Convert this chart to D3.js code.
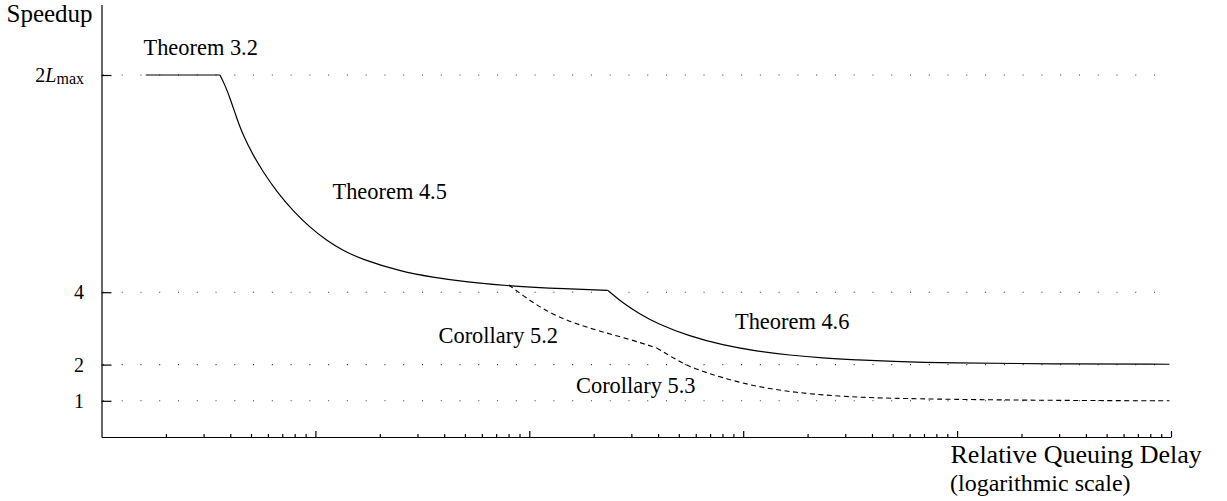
<!DOCTYPE html>
<html><head><meta charset="utf-8">
<script src="https://cdn.jsdelivr.net/npm/d3@7"></script>
</head><body style="margin:0;padding:0;background:#fff">
<svg id="chart" width="1227" height="501" style="display:block;background:#fff"></svg>
<script>
// ---- data (x: relative queuing delay, y: speedup) ----
const theorem32 = [[1.61,10],[3.58,10]];
const theorem45 = [[3.58,10],[3.78,9.72],[3.99,9.36],[4.28,8.82],[4.60,8.32],[5.12,7.78],[5.70,7.32],[6.59,6.78],[7.88,6.24],[9.43,5.79],[11.28,5.43],[13.49,5.15],[16.14,4.93],[24.8,4.58],[35.4,4.41],[51.0,4.28],[80.2,4.17],[149.7,4.09],[232.8,4.05]];
const theorem46 = [[232.8,4.05],[273.5,3.70],[328.5,3.40],[394,3.14],[562,2.78],[802,2.54],[1157,2.37],[1650,2.26],[2352,2.18],[3392,2.13],[4837,2.09],[9226,2.04],[27040,2.02],[98400,2.01]];
const corollary52 = [[80.2,4.20],[95.3,3.87],[112,3.59],[134.4,3.34],[163,3.14],[213.5,2.92],[295,2.70],[394,2.46]];
const corollary53 = [[394,2.46],[463,2.21],[562,1.93],[802,1.63],[1157,1.39],[1650,1.25],[2352,1.16],[3392,1.10],[4837,1.07],[9226,1.04],[27040,1.01],[98400,1.00]];
const yTicks = [1,2,4,10];
const xMajorTicks = [10,100,1000,10000,100000];
const xDomain = [1,1e5];
const yDomain = [0,11.95];
const seriesLabels = ["Theorem 3.2","Theorem 4.5","Corollary 5.2","Theorem 4.6","Corollary 5.3"];
const yTitle = "Speedup";
const xTitle = "Relative Queuing Delay";
const xSubtitle = "(logarithmic scale)";

// ---- layout ----
const FONT = "'Liberation Serif', 'Times New Roman', Tinos, serif";
const svg = d3.select("#chart").style("font-family", FONT);
const x = d3.scaleLog().domain(xDomain).range([101.5,1171]);
const y = d3.scaleLinear().domain(yDomain).range([437, 437 - 11.95*36.2]);

// grid (dotted)
svg.append("g").selectAll("line").data(yTicks).join("line")
  .attr("x1", x(xDomain[0])).attr("x2", x(xDomain[1]))
  .attr("y1", d=>y(d)).attr("y2", d=>y(d))
  .attr("stroke","#333").attr("stroke-width",1.1)
  .attr("stroke-dasharray","1 17.77").attr("stroke-dashoffset",-1.4);

// x axis: minor + major inward ticks
const minor = x.ticks().filter(t => !xMajorTicks.includes(t) && t !== 1);
const gx = svg.append("g").attr("transform","translate(0,437)");
gx.call(d3.axisBottom(x).tickValues(minor).tickSizeInner(-3).tickSizeOuter(0).tickFormat(""));
const gx2 = svg.append("g").attr("transform","translate(0,437)");
gx2.call(d3.axisBottom(x).tickValues(xMajorTicks).tickSizeInner(-6).tickSizeOuter(0).tickFormat(""));
gx2.select(".domain").remove();

// y axis
const gy = svg.append("g").attr("transform","translate(101.5,0)");
gy.call(d3.axisLeft(y).tickValues(yTicks).tickSizeInner(-10).tickSizeOuter(0).tickPadding(17.5)
  .tickFormat(d => d === 10 ? "" : d));
gy.attr("font-family", null);
gy.selectAll(".tick text").style("font-family", FONT)
  .attr("font-size",20).attr("dy","0.32em").attr("fill","#000");
gy.selectAll(".tick").filter(d => d === 10).select("text").each(function(){
  const t = d3.select(this);
  t.append("tspan").text("2");
  t.append("tspan").style("font-style","italic").text("L");
  t.append("tspan").attr("font-size",16).attr("dy",2).text("max");
});
svg.selectAll(".domain, .tick line").attr("stroke","#000").attr("stroke-width",1.2);

// curves
const line = d3.line().x(d=>x(d[0])).y(d=>y(d[1])).curve(d3.curveBasis);
const solid = [theorem32, theorem45, theorem46];
const dashed = [corollary52, corollary53];
svg.append("g").selectAll("path").data(solid).join("path")
  .attr("d", line).attr("fill","none").attr("stroke","#000").attr("stroke-width",1.2);
svg.append("g").selectAll("path").data(dashed).join("path")
  .attr("d", line).attr("fill","none").attr("stroke","#000").attr("stroke-width",1.1)
  .attr("stroke-dasharray","5 3.5");

// annotations: set at 24px (serif renders cleanly) and condensed to a 22px-equivalent width
const labelPos = [[143.5,55],[332.5,199],[438.5,343],[735,329],[576,393]];
svg.append("g").selectAll("text").data(seriesLabels).join("text")
  .style("font-family", FONT)
  .attr("x",(d,i)=>labelPos[i][0]).attr("y",(d,i)=>labelPos[i][1])
  .attr("font-size",24).text(d=>d)
  .each(function(){
    const w = this.getComputedTextLength();
    d3.select(this).attr("textLength", (w*22.4/24).toFixed(1)).attr("lengthAdjust","spacingAndGlyphs");
  });

svg.append("text").style("font-family", FONT).attr("x",6.5).attr("y",22).attr("font-size",25).text(yTitle);
svg.append("text").style("font-family", FONT).attr("x",950.5).attr("y",463).attr("font-size",26).text(xTitle);
svg.append("text").style("font-family", FONT).attr("x",950).attr("y",491).attr("font-size",24).text(xSubtitle);
</script>
</body></html>
